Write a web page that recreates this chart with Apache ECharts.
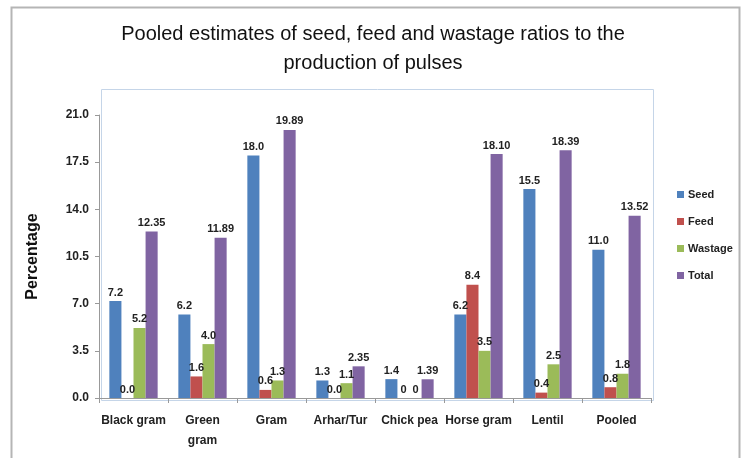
<!DOCTYPE html>
<html><head><meta charset="utf-8">
<script src="https://cdn.jsdelivr.net/npm/echarts@6/dist/echarts.min.js"></script>
<style>html,body{margin:0;padding:0;background:#fff;}#c{width:746px;height:458px;}</style>
</head><body><div id="c"></div>
<script>
const categories = ['Black gram','Green\ngram','Gram','Arhar/Tur','Chick pea','Horse gram','Lentil','Pooled'];
const seed = [7.2, 6.2, 18.0, 1.3, 1.4, 6.2, 15.5, 11.0];
const feed = [0, 1.6, 0.6, 0, 0, 8.4, 0.4, 0.8];
const wastage = [5.2, 4.0, 1.3, 1.1, 0, 3.5, 2.5, 1.8];
const total = [12.35, 11.89, 19.89, 2.35, 1.39, 18.10, 18.39, 13.52];
const seedLabels = ['7.2','6.2','18.0','1.3','1.4','6.2','15.5','11.0'];
const feedLabels = ['0.0','1.6','0.6','0.0','0','8.4','0.4','0.8'];
const wastageLabels = ['5.2','4.0','1.3','1.1','0','3.5','2.5','1.8'];
const totalLabels = ['12.35','11.89','19.89','2.35','1.39','18.10','18.39','13.52'];
const colors = ['#4F81BD','#C0504D','#9BBB59','#8064A2'];

const FONT = '"Liberation Sans",sans-serif';
const chart = echarts.init(document.getElementById('c'));
function mk(name, data, labels, color){
  return {
    name, type:'bar', data, barGap:'0%', barCategoryGap:'30%',
    itemStyle:{color},
    label:{show:true, position:'top', distance:3, fontFamily:FONT, fontWeight:'bold', fontSize:11, color:'#222',
      formatter:p=>labels[p.dataIndex]}
  };
}
chart.setOption({
  animation:false,
  color: colors,
  title:{text:'Pooled estimates of seed, feed and wastage ratios to the\nproduction of pulses', left:'center', top:15,
    textStyle:{fontFamily:FONT, fontWeight:'normal', fontSize:20, lineHeight:29, color:'#111'}},
  legend:{orient:'vertical', left:672, top:184, itemWidth:7, itemHeight:7, itemGap:16,
    icon:'rect', textStyle:{fontFamily:FONT, fontWeight:'bold', fontSize:11, color:'#222', padding:[0,0,0,-1]}},
  grid:{left:99, right:95, top:115, bottom:60, containLabel:false},
  xAxis:{type:'category', data:categories,
    axisLine:{lineStyle:{color:'#999'}}, axisTick:{show:true, length:5, lineStyle:{color:'#999'}},
    axisLabel:{interval:0, margin:13, fontFamily:FONT, fontWeight:'bold', fontSize:12, color:'#222', lineHeight:20}},
  yAxis:{type:'value', min:0, max:21, interval:3.5, name:'Percentage', nameLocation:'middle', nameGap:58,
    nameTextStyle:{fontFamily:FONT, fontWeight:'bold', fontSize:16, color:'#111'},
    axisLine:{show:true, lineStyle:{color:'#999'}}, axisTick:{show:true, length:4, lineStyle:{color:'#999'}},
    splitLine:{show:false},
    axisLabel:{margin:10, fontFamily:FONT, fontWeight:'bold', fontSize:12, color:'#222', formatter:v=>v.toFixed(1)}},
  graphic:[
    {type:'rect', left:9, top:5, shape:{width:728, height:460}, style:{fill:'none', stroke:'#b5b5b5', lineWidth:2}, silent:true},
    {type:'rect', left:99, top:87, shape:{width:552, height:311}, style:{fill:'none', stroke:'#c5d5e8', lineWidth:1}, silent:true, z:-1}
  ],
  series:[mk('Seed',seed,seedLabels,colors[0]), mk('Feed',feed,feedLabels,colors[1]), mk('Wastage',wastage,wastageLabels,colors[2]), mk('Total',total,totalLabels,colors[3])]
});
</script></body></html>
